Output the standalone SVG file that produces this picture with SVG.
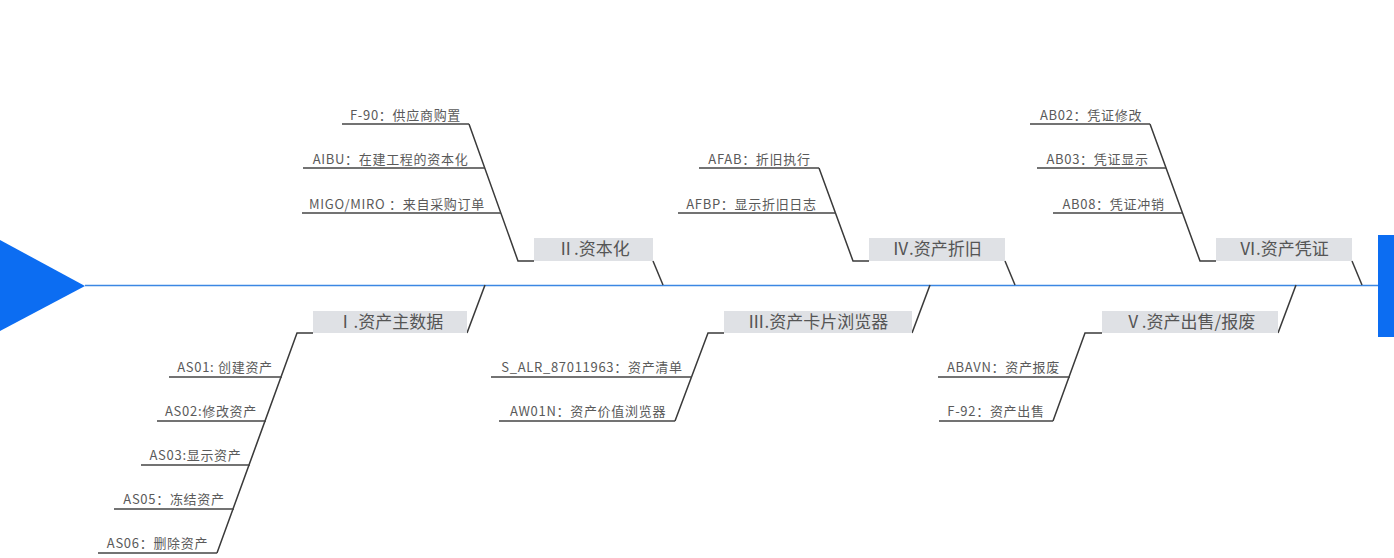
<svg xmlns="http://www.w3.org/2000/svg" width="1394" height="558" viewBox="0 0 1394 558">
<style>
.lbl{font-family:"Noto Sans CJK SC","Liberation Sans",sans-serif;font-size:13px;letter-spacing:0.7px;fill:#5a5a5a;text-anchor:middle}
.ttl{font-family:"Noto Sans CJK SC","Liberation Sans",sans-serif;font-size:17px;fill:#555;text-anchor:middle}
.box{fill:#dfe1e5}
.ln{stroke:#3a3a3a;stroke-width:1.5;fill:none}
.ul{stroke:#444;stroke-width:1.3;fill:none}
.spine{stroke:#3b87e3;stroke-width:1.6}
</style>
<rect width="1394" height="558" fill="#ffffff"/>
<g id="head">
<polygon points="0,240 85,286 0,331" fill="#0c6df2"/>
<rect x="1378" y="235" width="16" height="102" fill="#0c6df2"/>
</g>
<g id="connectors">
<line class="spine" x1="85" y1="285.5" x2="1378" y2="285.5"/>
<line class="ln" x1="467" y1="333" x2="485" y2="285"/>
<line class="ln" x1="653" y1="261" x2="663" y2="285"/>
<line class="ln" x1="912" y1="333" x2="930" y2="285"/>
<line class="ln" x1="1005" y1="261" x2="1015" y2="285"/>
<line class="ln" x1="1278" y1="333" x2="1296" y2="285"/>
<line class="ln" x1="1352" y1="261" x2="1362" y2="285"/>
<polyline class="ln" points="313,333 297,333 217,553"/>
<polyline class="ln" points="534,261 518,261 469,124"/>
<polyline class="ln" points="724,333 708,333 675,421"/>
<polyline class="ln" points="869,261 853,261 819,168"/>
<polyline class="ln" points="1102,333 1085,333 1053,421"/>
<polyline class="ln" points="1216,261 1200,261 1150,124"/>
</g>
<g id="n1">
<rect class="box" x="313" y="311" width="154" height="22"/>
<text class="ttl" x="390" y="328">Ⅰ.资产主数据</text>
</g>
<g id="n1a"><line class="ul" x1="169" y1="377" x2="282" y2="377"/><text class="lbl" x="225" y="372">AS01: 创建资产</text></g>
<g id="n1b"><line class="ul" x1="157" y1="421" x2="266" y2="421"/><text class="lbl" x="211" y="416">AS02:修改资产</text></g>
<g id="n1c"><line class="ul" x1="141" y1="465" x2="250" y2="465"/><text class="lbl" x="195.5" y="460">AS03:显示资产</text></g>
<g id="n1d"><line class="ul" x1="114" y1="509" x2="234" y2="509"/><text class="lbl" x="174" y="504">AS05：冻结资产</text></g>
<g id="n1e"><line class="ul" x1="98" y1="553" x2="217" y2="553"/><text class="lbl" x="157.5" y="548">AS06：删除资产</text></g>
<g id="n2">
<rect class="box" x="534" y="238" width="119" height="23"/>
<text class="ttl" x="593.5" y="255">Ⅱ.资本化</text>
</g>
<g id="n2a"><line class="ul" x1="342" y1="124" x2="469" y2="124"/><text class="lbl" x="405.5" y="119.5">F-90：供应商购置</text></g>
<g id="n2b"><line class="ul" x1="303" y1="168" x2="485" y2="168"/><text class="lbl" x="390.5" y="163.5">AIBU：在建工程的资本化</text></g>
<g id="n2c"><line class="ul" x1="302" y1="213" x2="501" y2="213"/><text class="lbl" x="397" y="208.5">MIGO/MIRO ：来自采购订单</text></g>
<g id="n3">
<rect class="box" x="724" y="311" width="188" height="22"/>
<text class="ttl" x="818" y="328">Ⅲ.资产卡片浏览器</text>
</g>
<g id="n3a"><line class="ul" x1="491" y1="377" x2="692" y2="377"/><text class="lbl" x="592" y="372">S_ALR_87011963：资产清单</text></g>
<g id="n3b"><line class="ul" x1="499" y1="421" x2="675" y2="421"/><text class="lbl" x="588" y="416">AW01N：资产价值浏览器</text></g>
<g id="n4">
<rect class="box" x="869" y="238" width="136" height="23"/>
<text class="ttl" x="937" y="255">Ⅳ.资产折旧</text>
</g>
<g id="n4a"><line class="ul" x1="699" y1="168" x2="819" y2="168"/><text class="lbl" x="759.5" y="163.5">AFAB：折旧执行</text></g>
<g id="n4b"><line class="ul" x1="678" y1="213" x2="836" y2="213"/><text class="lbl" x="751.5" y="208.5">AFBP：显示折旧日志</text></g>
<g id="n5">
<rect class="box" x="1102" y="311" width="176" height="22"/>
<text class="ttl" x="1190" y="328">Ⅴ.资产出售/报废</text>
</g>
<g id="n5a"><line class="ul" x1="938" y1="377" x2="1070" y2="377"/><text class="lbl" x="1003.5" y="372">ABAVN：资产报废</text></g>
<g id="n5b"><line class="ul" x1="939" y1="421" x2="1053" y2="421"/><text class="lbl" x="996" y="416">F-92：资产出售</text></g>
<g id="n6">
<rect class="box" x="1216" y="238" width="136" height="23"/>
<text class="ttl" x="1284" y="255">Ⅵ.资产凭证</text>
</g>
<g id="n6a"><line class="ul" x1="1030" y1="124" x2="1150" y2="124"/><text class="lbl" x="1091" y="119.5">AB02：凭证修改</text></g>
<g id="n6b"><line class="ul" x1="1037" y1="168" x2="1166" y2="168"/><text class="lbl" x="1097.5" y="163.5">AB03：凭证显示</text></g>
<g id="n6c"><line class="ul" x1="1053" y1="213" x2="1182" y2="213"/><text class="lbl" x="1113.5" y="208.5">AB08：凭证冲销</text></g>
</svg>
